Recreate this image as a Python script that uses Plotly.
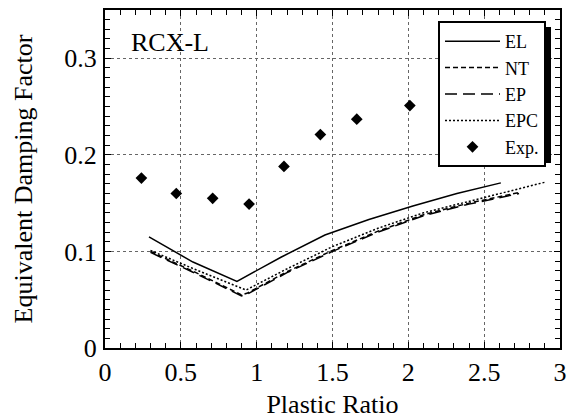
import plotly.graph_objects as go

# ---- data ----
x_el = [0.29, 0.58, 0.87, 1.16, 1.45, 1.74, 2.03, 2.32, 2.61]
y_el = [0.115, 0.089, 0.069, 0.094, 0.117, 0.133, 0.147, 0.160, 0.171]

x_nt = [0.30, 0.60, 0.90, 0.94, 1.20, 1.50, 1.80, 2.10, 2.40, 2.73]
y_nt = [0.100, 0.078, 0.055, 0.057, 0.079, 0.101, 0.121, 0.138, 0.150, 0.161]

x_ep = [0.30, 0.60, 0.90, 0.94, 1.20, 1.50, 1.80, 2.10, 2.40, 2.73]
y_ep = [0.099, 0.077, 0.054, 0.056, 0.078, 0.100, 0.120, 0.137, 0.149, 0.160]

x_epc = [0.30, 0.60, 0.93, 1.20, 1.50, 1.80, 2.10, 2.40, 2.70, 2.91]
y_epc = [0.101, 0.081, 0.060, 0.082, 0.105, 0.124, 0.140, 0.152, 0.164, 0.172]

x_exp = [0.24, 0.47, 0.71, 0.95, 1.18, 1.42, 1.66, 2.01]
y_exp = [0.176, 0.160, 0.155, 0.149, 0.188, 0.221, 0.237, 0.251]

x_ticks = [0, 0.5, 1, 1.5, 2, 2.5, 3]
x_ticklabels = ["0", "0.5", "1", "1.5", "2", "2.5", "3"]
y_ticks = [0, 0.1, 0.2, 0.3]
y_ticklabels = ["0", "0.1", "0.2", "0.3"]

FONT = "Liberation Serif"

fig = go.Figure()
fig.add_trace(go.Scatter(x=x_el, y=y_el, mode="lines", name="EL",
                         line=dict(color="black", width=1.5)))
fig.add_trace(go.Scatter(x=x_nt, y=y_nt, mode="lines", name="NT",
                         line=dict(color="black", width=1.5, dash="5px,3px")))
fig.add_trace(go.Scatter(x=x_ep, y=y_ep, mode="lines", name="EP",
                         line=dict(color="black", width=1.5, dash="12px,6px")))
fig.add_trace(go.Scatter(x=x_epc, y=y_epc, mode="lines", name="EPC",
                         line=dict(color="black", width=1.5, dash="2px,2px")))
fig.add_trace(go.Scatter(x=x_exp, y=y_exp, mode="markers", name="Exp.",
                         marker=dict(symbol="diamond", size=9, color="black")))

axis_common = dict(
    showline=True, linecolor="black", linewidth=2, mirror="ticks",
    ticks="inside", ticklen=6, tickwidth=1, tickcolor="black",
    showgrid=True, gridcolor="#666666", gridwidth=1, griddash="dot",
    zeroline=False, automargin=False,
    tickfont=dict(family=FONT, size=26, color="black"),
)

fig.update_xaxes(
    range=[0, 3], tickvals=x_ticks, ticktext=x_ticklabels,
    minor=dict(ticks="inside", dtick=0.1, ticklen=5, tickcolor="black", showgrid=False),
    title=dict(text="Plastic Ratio", font=dict(family=FONT, size=26, color="black"), standoff=9),
    ticklabelstandoff=0,
    **axis_common,
)
fig.update_yaxes(
    range=[0, 0.35], tickvals=y_ticks, ticktext=y_ticklabels,
    minor=dict(ticks="inside", dtick=0.01, ticklen=5, tickcolor="black", showgrid=False),
    title=dict(text="Equivalent Damping Factor", font=dict(family=FONT, size=26, color="black"), standoff=24),
    ticklabelstandoff=1,
    **axis_common,
)

# legend shadow
fig.add_shape(type="rect", xref="paper", yref="paper",
              x0=(441 - 105) / 455, x1=(551 - 105) / 455,
              y0=(348 - 163) / 338, y1=(348 - 27) / 338,
              fillcolor="black", line=dict(width=0), layer="above")

fig.add_annotation(text="RCX-L", xref="paper", yref="paper",
                   x=(129 - 105) / 455, y=(348 - 42) / 338,
                   xanchor="left", yanchor="middle", showarrow=False,
                   font=dict(family=FONT, size=26, color="black"))

fig.update_layout(
    width=575, height=419,
    margin=dict(l=105, r=15, t=10, b=71),
    paper_bgcolor="white", plot_bgcolor="white",
    legend=dict(x=(438 - 105) / 455, y=(348 - 21) / 338, xanchor="left", yanchor="top",
                bgcolor="white", bordercolor="black", borderwidth=2,
                font=dict(family=FONT, size=18, color="black"),
                tracegroupgap=0, itemwidth=55),
    showlegend=True,
)

fig.write_html("out.html")
